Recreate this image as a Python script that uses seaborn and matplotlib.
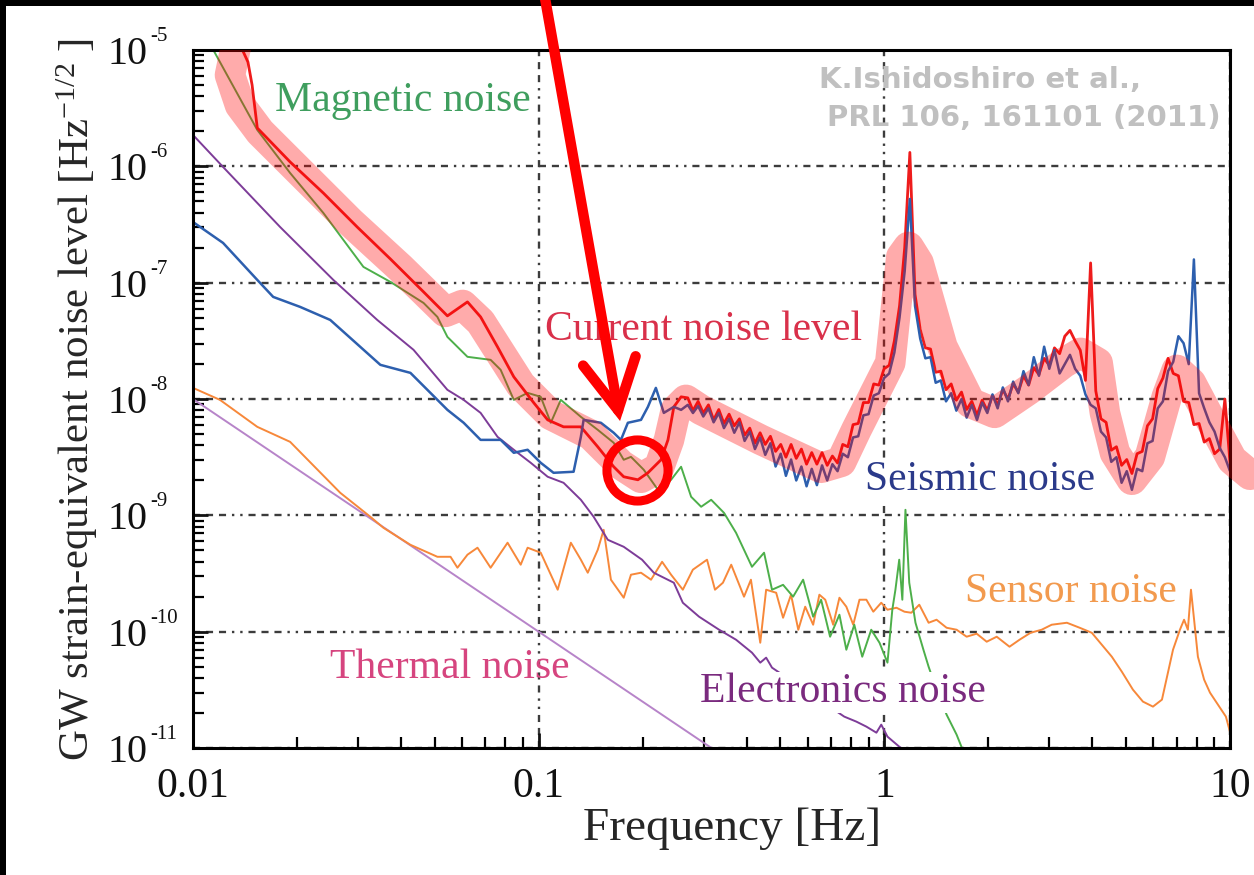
import numpy as np
import pandas as pd
import matplotlib
matplotlib.use("Agg")
import matplotlib.pyplot as plt
import seaborn as sns
from matplotlib.patches import FancyArrowPatch, Rectangle
from matplotlib.ticker import LogLocator, NullFormatter
from matplotlib.transforms import blended_transform_factory, offset_copy

# ---------------------------------------------------------------
# Noise budget (log10 frequency [Hz], log10 strain amplitude [Hz^-1/2])
# ---------------------------------------------------------------
mag_logf = [-1.957, -1.814, -1.719, -1.623, -1.565, -1.507, -1.429, -1.333, -1.293, -1.264,
            -1.206, -1.139, -1.110, -1.072, -1.032, -0.994, -0.965, -0.936, -0.878, -0.829,
            -0.783, -0.754, -0.733, -0.696, -0.655, -0.617, -0.588, -0.559, -0.530, -0.501,
            -0.464, -0.429, -0.383, -0.348, -0.325, -0.293, -0.264, -0.235, -0.206, -0.183,
            -0.157, -0.130, -0.110, -0.087, -0.064, -0.038, -0.014, 0.009, 0.023, 0.032,
            0.043, 0.052, 0.061, 0.072, 0.090, 0.113, 0.128, 0.151, 0.180, 0.209, 0.238]
mag_logv = [-4.914, -5.687, -6.057, -6.400, -6.632, -6.864, -6.993, -7.174, -7.294, -7.466,
            -7.637, -7.663, -7.749, -8.007, -7.947, -7.981, -8.204, -8.007, -8.153, -8.265,
            -8.376, -8.522, -8.497, -8.608, -8.780, -8.694, -8.582, -8.840, -8.926, -8.866,
            -8.978, -9.150, -9.442, -9.321, -9.639, -9.597, -9.699, -9.553, -9.871, -9.725,
            -10.043, -9.854, -10.155, -9.940, -10.215, -9.983, -10.095, -10.266, -9.811, -9.639,
            -9.381, -9.725, -8.952, -9.579, -9.923, -10.155, -10.301, -10.498, -10.713, -10.885, -11.10]

elec_logf = [-2.0, -1.913, -1.748, -1.594, -1.467, -1.362, -1.264, -1.217, -1.168, -1.119,
             -1.072, -1.023, -0.974, -0.928, -0.878, -0.841, -0.800, -0.754, -0.701, -0.667,
             -0.609, -0.583, -0.536, -0.478, -0.429, -0.383, -0.359, -0.342, -0.325, -0.116,
             -0.081, -0.052, -0.023, -0.009, 0.009, 0.043, 0.064]
elec_logv = [-5.730, -6.005, -6.521, -6.976, -7.320, -7.577, -7.921, -8.007, -8.119, -8.325,
             -8.436, -8.548, -8.668, -8.720, -8.866, -9.012, -9.210, -9.270, -9.381, -9.493,
             -9.579, -9.751, -9.871, -9.983, -10.069, -10.180, -10.266, -10.223, -10.309, -10.730,
             -10.773, -10.816, -10.868, -10.799, -10.902, -10.988, -11.03]

sensor_logf = [-2.0, -1.922, -1.814, -1.719, -1.574, -1.487, -1.449, -1.371, -1.293, -1.255,
               -1.235, -1.206, -1.177, -1.139, -1.090, -1.052, -1.032, -0.994, -0.945, -0.907,
               -0.878, -0.858, -0.829, -0.812, -0.791, -0.754, -0.733, -0.704, -0.675, -0.643,
               -0.617, -0.583, -0.554, -0.513, -0.490, -0.467, -0.443, -0.406, -0.386, -0.359,
               -0.342, -0.313, -0.293, -0.270, -0.249, -0.229, -0.206, -0.188, -0.171, -0.148,
               -0.130, -0.110, -0.090, -0.072, -0.052, -0.032, -0.009, 0.009, 0.035, 0.058,
               0.078, 0.101, 0.128, 0.151, 0.180, 0.209, 0.238, 0.267, 0.296, 0.325,
               0.362, 0.391, 0.423, 0.455, 0.484, 0.528, 0.565, 0.600, 0.629, 0.658,
               0.687, 0.719, 0.748, 0.777, 0.803, 0.835, 0.855, 0.867, 0.878, 0.887,
               0.896, 0.907, 0.925, 0.942, 0.965, 0.988, 1.006]
sensor_logv = [-7.904, -8.007, -8.239, -8.368, -8.806, -9.012, -9.107, -9.253, -9.356, -9.356,
               -9.450, -9.338, -9.278, -9.450, -9.235, -9.424, -9.278, -9.321, -9.639, -9.235,
               -9.381, -9.493, -9.295, -9.124, -9.553, -9.708, -9.510, -9.493, -9.553, -9.399,
               -9.510, -9.639, -9.467, -9.381, -9.639, -9.579, -9.424, -9.699, -9.553, -10.095,
               -9.639, -9.665, -9.880, -9.682, -9.983, -9.785, -9.940, -9.682, -9.725, -9.940,
               -9.708, -9.785, -9.940, -9.725, -9.725, -9.828, -9.751, -9.811, -9.794, -9.828,
               -9.837, -9.768, -9.923, -9.897, -9.966, -9.983, -10.043, -10.017, -10.086, -10.043,
               -10.129, -10.069, -10.009, -9.983, -9.940, -9.923, -9.966, -10.009, -10.112, -10.215,
               -10.344, -10.498, -10.601, -10.644, -10.584, -10.155, -9.983, -9.897, -9.983, -9.639,
               -9.897, -10.215, -10.412, -10.524, -10.627, -10.730, -10.928]

thermal_freq = [0.01, 0.1, 0.4]
thermal_amp = [1e-8, 1e-10, 6.25e-12]

# Current noise level: sparse low-frequency part + dense spectrum above 0.27 Hz
current_lo_logf = [-1.870, -1.841, -1.829, -1.814, -1.719, -1.623, -1.525, -1.429, -1.333, -1.264,
                   -1.206, -1.168, -1.119, -1.072, -1.014, -0.974, -0.928, -0.878, -0.829, -0.783,
                   -0.754, -0.713, -0.684, -0.646, -0.626, -0.609, -0.588]
current_lo_logv = [-4.914, -5.103, -5.301, -5.670, -5.962, -6.229, -6.521, -6.796, -7.079, -7.285,
                   -7.165, -7.294, -7.552, -7.809, -8.033, -8.179, -8.239, -8.239, -8.411, -8.582,
                   -8.668, -8.694, -8.634, -8.522, -8.351, -8.067, -7.981]
current_hi_logv = [-7.99, -8.10, -8.02, -8.12, -8.05, -8.18, -8.09, -8.21, -8.13, -8.23,
                   -8.17, -8.31, -8.25, -8.38, -8.29, -8.39, -8.32, -8.45, -8.39, -8.50,
                   -8.39, -8.51, -8.43, -8.56, -8.46, -8.56, -8.46, -8.57, -8.49, -8.55,
                   -8.39, -8.41, -8.22, -8.21, -8.03, -8.03, -7.87, -7.88, -7.74, -7.71,
                   -7.50, -7.20, -6.70, -5.88, -7.10, -7.40, -7.56, -7.57, -7.77, -7.76,
                   -7.92, -7.87, -8.01, -7.94, -8.09, -8.02, -8.14, -8.01, -8.10, -7.97,
                   -8.05, -7.92, -8.00, -7.87, -7.94, -7.80, -7.88, -7.73, -7.79, -7.65,
                   -7.71, -7.56, -7.61, -7.46, -7.41, -7.50, -7.58, -7.84, -6.83, -7.93,
                   -8.17, -8.20, -8.44, -8.41, -8.57, -8.52, -8.64, -8.47, -8.45, -8.23,
                   -8.17, -7.91, -7.82, -7.65, -7.78, -7.80, -8.02, -8.03, -8.22, -8.21,
                   -8.37, -8.34, -8.47, -8.43, -8.00, -8.55]

# Seismic noise: same split
seismic_lo_logf = [-2.0, -1.913, -1.814, -1.768, -1.690, -1.603, -1.458, -1.371, -1.313, -1.264,
                   -1.217, -1.168, -1.110, -1.072, -1.032, -0.994, -0.957, -0.899, -0.878, -0.870,
                   -0.820, -0.783, -0.762, -0.742, -0.704, -0.684, -0.661, -0.638, -0.609, -0.588]
seismic_lo_logv = [-6.478, -6.658, -6.976, -7.122, -7.208, -7.320, -7.706, -7.775, -7.947, -8.093,
                   -8.204, -8.351, -8.351, -8.462, -8.436, -8.548, -8.634, -8.625, -8.325, -8.179,
                   -8.204, -8.290, -8.351, -8.204, -8.179, -8.067, -7.904, -8.119, -8.067, -8.093]
seismic_hi_logv = [-8.05, -8.12, -8.06, -8.15, -8.08, -8.20, -8.12, -8.25, -8.17, -8.29,
                   -8.20, -8.36, -8.28, -8.43, -8.33, -8.48, -8.38, -8.58, -8.47, -8.66,
                   -8.52, -8.70, -8.58, -8.75, -8.60, -8.74, -8.57, -8.70, -8.56, -8.62,
                   -8.47, -8.50, -8.33, -8.32, -8.14, -8.13, -7.97, -7.95, -7.82, -7.78,
                   -7.60, -7.30, -6.90, -6.28, -7.20, -7.48, -7.65, -7.64, -7.86, -7.84,
                   -8.02, -7.95, -8.10, -8.00, -8.16, -8.05, -8.18, -8.03, -8.12, -7.96,
                   -8.08, -7.90, -8.02, -7.85, -7.95, -7.76, -7.88, -7.64, -7.80, -7.55,
                   -7.74, -7.58, -7.78, -7.70, -7.62, -7.74, -7.80, -7.96, -8.05, -8.08,
                   -8.28, -8.33, -8.54, -8.50, -8.72, -8.62, -8.78, -8.60, -8.62, -8.38,
                   -8.36, -8.08, -8.02, -7.76, -7.68, -7.46, -7.52, -7.70, -6.80, -7.95,
                   -8.08, -8.20, -8.28, -8.42, -8.50, -8.62]
hi_band = (0.27, 10.0)   # frequency span of the dense spectra

# Hand-drawn highlight following the current noise level
highlight_logf = [-1.875, -1.893, -1.864, -1.806, -1.690, -1.545, -1.400, -1.270, -1.220, -1.168,
                  -1.052, -0.965, -0.849, -0.762, -0.704, -0.652, -0.623, -0.603, -0.574, -0.530,
                  -0.357, -0.183, -0.125, -0.081, 0.017, 0.049, 0.070, 0.099, 0.168, 0.249,
                  0.319, 0.417, 0.519, 0.568, 0.617, 0.638, 0.667, 0.716, 0.768, 0.817,
                  0.846, 0.887, 0.948, 1.006, 1.058]
highlight_logv = [-4.957, -5.215, -5.473, -5.704, -6.048, -6.478, -6.873, -7.251, -7.191, -7.337,
                  -7.878, -8.136, -8.308, -8.565, -8.677, -8.591, -8.351, -8.093, -8.007, -8.093,
                  -8.351, -8.591, -8.540, -8.265, -7.689, -6.778, -6.692, -6.830, -7.552, -8.033,
                  -8.119, -7.921, -7.689, -7.603, -7.689, -8.119, -8.462, -8.694, -8.497, -7.981,
                  -7.749, -7.861, -8.204, -8.522, -8.651]

x_ticks = [0.01, 0.1, 1, 10]
x_tick_labels = ["0.01", "0.1", "1", "10"]
y_ticks = [1e-11, 1e-10, 1e-9, 1e-8, 1e-7, 1e-6, 1e-5]
y_tick_exponents = ["-11", "-10", "-9", "-8", "-7", "-6", "-5"]

# ---------------------------------------------------------------
sns.set_theme(style="white")
plt.rcParams["font.family"] = ["Liberation Serif", "DejaVu Serif"]
plt.rcParams["mathtext.fontset"] = "custom"
plt.rcParams["mathtext.rm"] = "Liberation Serif"
plt.rcParams["mathtext.it"] = "Liberation Serif:italic"
plt.rcParams["mathtext.bf"] = "Liberation Serif:bold"
plt.rcParams["text.color"] = "#111111"

fig = plt.figure(figsize=(12.54, 8.75), dpi=100, facecolor="white")
ax = fig.add_axes([0.1539, 0.1451, 0.8270, 0.7977])
ax.set_xscale("log")
ax.set_yscale("log")


def frame(freq, amp):
    return pd.DataFrame({"freq": np.asarray(freq, float), "amp": np.asarray(amp, float)})


def trace(df, color, lw, z):
    sns.lineplot(data=df, x="freq", y="amp", ax=ax, color=color, lw=lw,
                 sort=False, estimator=None, legend=False, zorder=z)


def dense(lo_logf, lo_logv, hi_logv):
    f_hi = np.geomspace(hi_band[0], hi_band[1], len(hi_logv))
    f = np.concatenate([10 ** np.asarray(lo_logf), f_hi])
    v = 10 ** np.concatenate([np.asarray(lo_logv), np.asarray(hi_logv)])
    return frame(f, v)


trace(frame(thermal_freq, thermal_amp), "#b784c9", 1.4, 2)
trace(frame(10 ** np.array(sensor_logf), 10 ** np.array(sensor_logv)), "#f7883a", 1.4, 2.1)
trace(frame(10 ** np.array(elec_logf), 10 ** np.array(elec_logv)), "#7d3c98", 1.4, 2.2)
trace(frame(10 ** np.array(mag_logf), 10 ** np.array(mag_logv)), "#4daf4a", 1.4, 2.3)
trace(dense(current_lo_logf, current_lo_logv, current_hi_logv), "#ee1c1c", 2.0, 2.4)
trace(dense(seismic_lo_logf, seismic_lo_logv, seismic_hi_logv), "#2d5fae", 1.8, 2.5)

# translucent marker-pen highlight over the current noise level
hl, = ax.plot(10 ** np.array(highlight_logf), 10 ** np.array(highlight_logv),
              color="#ff0000", alpha=0.33, lw=22, solid_capstyle="round",
              solid_joinstyle="round", zorder=4)
hl.set_clip_path(Rectangle((0, 0), 1.03, 1.0, transform=ax.transAxes))

# axes styling
ax.set_xlim(0.01, 10)
ax.set_ylim(1e-11, 1e-5)
ax.set_xticks(x_ticks, labels=x_tick_labels)
ax.set_yticks(y_ticks, labels=[""] * len(y_ticks))
ax.xaxis.set_minor_locator(LogLocator(base=10, subs=np.arange(2, 10)))
ax.yaxis.set_minor_locator(LogLocator(base=10, subs=np.arange(2, 10)))
ax.xaxis.set_minor_formatter(NullFormatter())
ax.yaxis.set_minor_formatter(NullFormatter())
ax.tick_params(which="both", direction="in", top=False, right=False,
               left=True, bottom=True, color="black")
ax.tick_params(which="major", length=11, width=2.0, labelsize=30, colors="#111111")
ax.tick_params(axis="x", which="major", pad=14)
ax.tick_params(which="minor", length=8, width=1.6)
for sp in ax.spines.values():
    sp.set_visible(True)
    sp.set_color("black")
    sp.set_linewidth(2.2)
ax.set_axisbelow(True)
ax.grid(True, which="major", color="#3c3c3c", lw=1.7,
        linestyle=(0, (3, 2.5, 3, 2.5, 3, 2.5, 1, 2.5, 1, 2.5)))
ax.grid(False, which="minor")

# y tick labels written as a large "10" with a small raised exponent
ytrans = blended_transform_factory(ax.transAxes, ax.transData)
base_tr = offset_copy(ytrans, fig=fig, x=0, y=-14, units="dots")
exp_tr = offset_copy(ytrans, fig=fig, x=0, y=9, units="dots")
for yv, ex in zip(y_ticks, y_tick_exponents):
    ax.text(-0.0435, yv, "10", transform=base_tr, ha="right", va="baseline",
            fontsize=29, color="#111111", clip_on=False)
    ax.text(-0.041, yv, ex, transform=exp_tr, ha="left", va="baseline",
            fontsize=15, color="#111111", clip_on=False)

ax.set_xlabel("Frequency [Hz]", fontsize=34)
ax.set_ylabel(r"GW strain-equivalent noise level [Hz$^{-1/2}$ ]", fontsize=31)
ax.xaxis.set_label_coords(0.52, -0.085)
ax.yaxis.set_label_coords(-0.09, 0.5)

# curve labels
label_kw = dict(transform=ax.transAxes, fontsize=30, ha="left", va="center", zorder=3)
ax.text(0.079, 0.928, "Magnetic noise", color="#3f9e5e", **label_kw)
ax.text(0.339, 0.599, "Current noise level", color="#d9304a", **label_kw)
ax.text(0.648, 0.384, "Seismic noise", color="#2b3a8a",
        bbox=dict(facecolor="white", edgecolor="none", pad=1), **label_kw)
ax.text(0.744, 0.2235, "Sensor noise", color="#f29a4e", **label_kw)
ax.text(0.132, 0.1146, "Thermal noise", color="#d6457f", **label_kw)
ax.text(0.489, 0.080, "Electronics noise", color="#7a2a7e",
        bbox=dict(facecolor="white", edgecolor="none", pad=1), **label_kw)

# reference note
cite_kw = dict(transform=ax.transAxes, fontsize=21, fontweight="bold",
               family="DejaVu Sans", color="#c0c0c0", ha="left", va="center", zorder=3)
ax.text(0.6037, 0.957, "K.Ishidoshiro et al.,", **cite_kw)
ax.text(0.6115, 0.903, "PRL 106, 161101 (2011)", **cite_kw)

# red pointer arrow and ring around the dip near 0.2 Hz
arrow = FancyArrowPatch((0.3394, 1.0745), (0.4118, 0.4685), transform=ax.transAxes,
                        arrowstyle="->,head_length=0.45,head_width=0.24",
                        mutation_scale=80, color="#ff0000", lw=7.5,
                        shrinkA=0, shrinkB=0, clip_on=False, zorder=10,
                        capstyle="round", joinstyle="miter")
ax.add_patch(arrow)
ring_center = (0.1923, 2.47e-9)
ax.plot([ring_center[0]], [ring_center[1]], marker="o", ms=44, mfc="none",
        mec="#ff0000", mew=6.5, zorder=10, clip_on=False)

# dark slide border
fig.add_artist(Rectangle((0, 1 - 6 / 875), 1, 6 / 875, transform=fig.transFigure,
                         facecolor="black", edgecolor="none", zorder=-1))
fig.add_artist(Rectangle((0, 0), 6 / 1254, 1, transform=fig.transFigure,
                         facecolor="black", edgecolor="none", zorder=-1))

fig.savefig("out.png", dpi=100, facecolor="white")
